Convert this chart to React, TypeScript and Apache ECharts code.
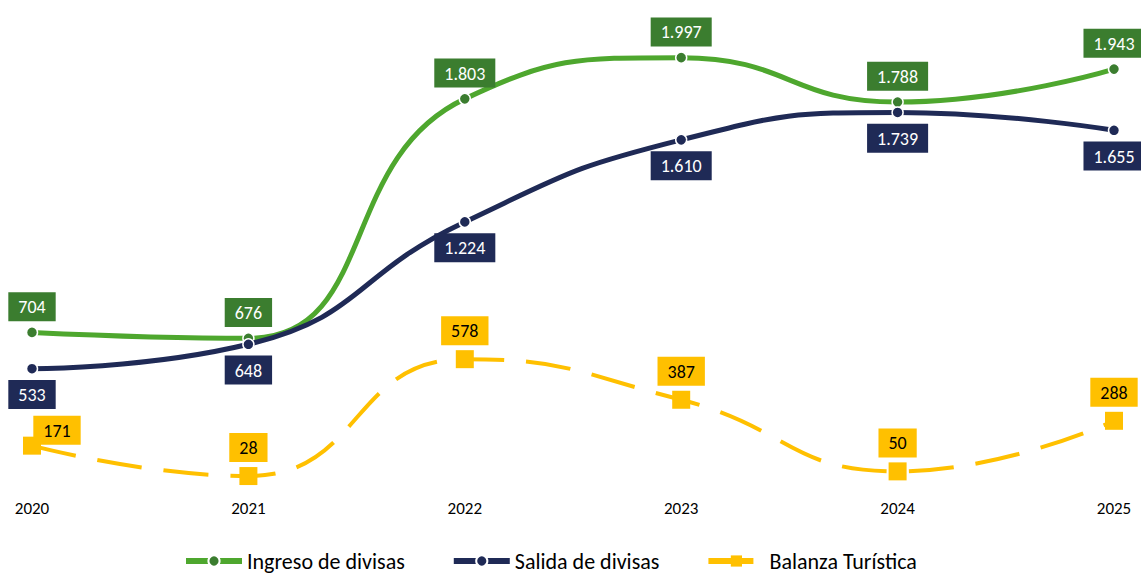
import React, { useEffect, useRef } from "react";
import * as echarts from "echarts";

const years = ["2020", "2021", "2022", "2023", "2024", "2025"];
const ingreso = [704, 676, 1803, 1997, 1788, 1943];
const salida = [533, 648, 1224, 1610, 1739, 1655];
const balanza = [171, 28, 578, 387, 50, 288];

const GREEN = "#4EA72E";
const GREEN_DARK = "#3B7D2F";
const NAVY = "#1F2A56";
const YELLOW = "#FFC000";
const FONT = "Carlito, Calibri, Lato, sans-serif";

const fmt = (v: number) => v.toLocaleString("de-DE");

export default function App() {
  const ref = useRef<HTMLDivElement>(null);
  useEffect(() => {
    document.body.style.margin = "0";
    const chart = echarts.init(ref.current!, null, { renderer: "svg" });
    const labelBase = {
      show: true,
      fontSize: 18,
      fontFamily: FONT,
      padding: [6, 10, 5, 10],
      formatter: (p: any) => fmt(p.value),
    };
    chart.setOption({
      animation: false,
      textStyle: { fontFamily: FONT },
      grid: { left: 32, right: 27, top: 57, bottom: 94 },
      xAxis: {
        type: "category",
        data: years,
        boundaryGap: false,
        axisLine: { show: false },
        axisTick: { show: false },
        axisLabel: { color: "#000", fontSize: 17, fontFamily: FONT, margin: 18 },
      },
      yAxis: { type: "value", min: 0, max: 2000, show: false, splitLine: { show: false } },
      legend: {
        left: 178,
        top: 545,
        itemWidth: 56,
        itemHeight: 14,
        itemGap: 46,
        lineStyle: { width: 6 },
        textStyle: { fontSize: 22, color: "#000", fontFamily: FONT },
        data: ["Ingreso de divisas", "Salida de divisas", "Balanza Turística"],
      },
      series: [
        {
          name: "Balanza Turística",
          type: "line",
          data: balanza.map((v, i) =>
            i === 0
              ? { value: v, label: { offset: [25, 13] } }
              : { value: v }
          ),
          smooth: 0.5,
          symbol: "rect",
          symbolSize: 18,
          itemStyle: { color: YELLOW },
          lineStyle: { color: YELLOW, width: 4, type: [45, 22] },
          label: { ...labelBase, position: "top", distance: 5, color: "#000", backgroundColor: YELLOW },
          z: 2,
        },
        {
          name: "Ingreso de divisas",
          type: "line",
          data: ingreso,
          smooth: 0.5,
          symbol: "circle",
          symbolSize: 11,
          itemStyle: { color: GREEN_DARK, borderColor: "#fff", borderWidth: 1.5 },
          lineStyle: { color: GREEN, width: 5 },
          label: { ...labelBase, position: "top", distance: 5, color: "#fff", backgroundColor: GREEN_DARK },
          z: 3,
        },
        {
          name: "Salida de divisas",
          type: "line",
          data: salida,
          smooth: 0.5,
          symbol: "circle",
          symbolSize: 11,
          itemStyle: { color: NAVY, borderColor: "#fff", borderWidth: 1.5 },
          lineStyle: { color: NAVY, width: 5 },
          label: { ...labelBase, position: "bottom", distance: 5, color: "#fff", backgroundColor: NAVY },
          z: 4,
        },
      ],
    });
    return () => chart.dispose();
  }, []);
  return <div ref={ref} style={{ width: 1141, height: 576 }} />;
}
